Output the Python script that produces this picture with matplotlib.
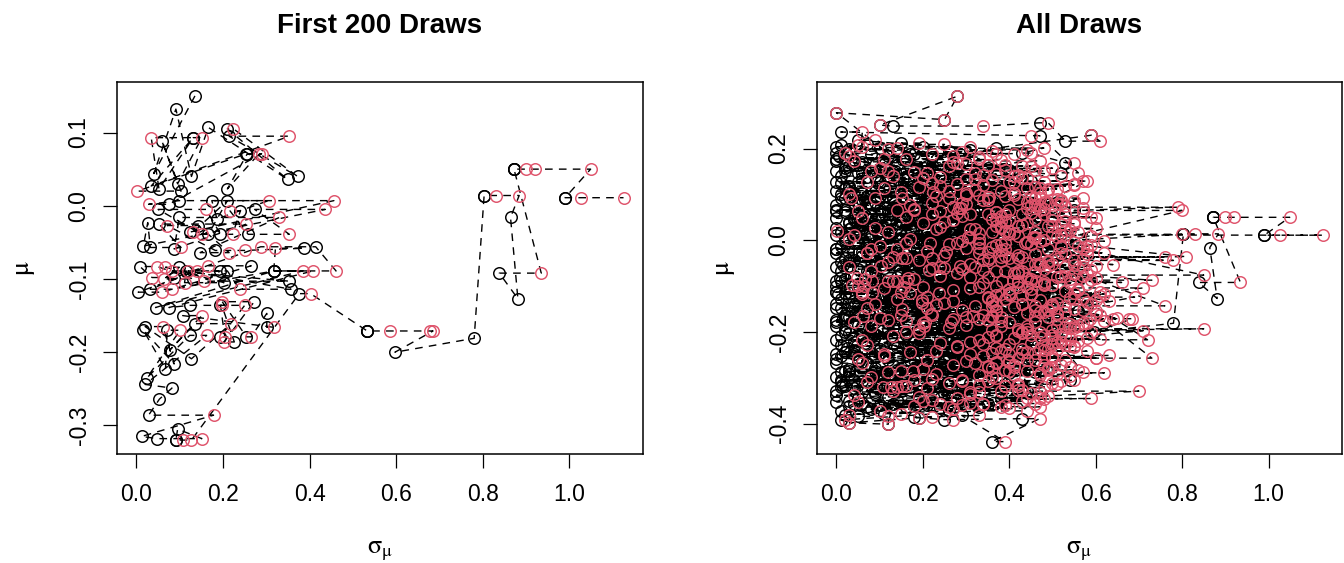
import numpy as np
import matplotlib
matplotlib.use('Agg')
import matplotlib.pyplot as plt

nan = float('nan')

# first 200 draws: sigma at the black point, mu, sigma at the red point (nan = hidden)
sig_first = [.135, .040, .091, .127, .166, .349, .210, .372, .214, .034,
             .131, .052, .131, .095, .059, .103, .254, .210, .256, .075,
             .099, .186, .174, .123, .210, .166, .050, .194, .240, .258,
             .273, .016, .026, .032, .052, .087, .099, .147, .143, .182,
             .388, .317, .414, .087, .008, .131, .099, .202, .115, .353,
             .194, .357, .210, .004, .265, .032, .317, .044, .317, .075,
             .123, .194, .194, .226, .272, .254, .301, .301, .107, .077,
             .135, .127, .020, .087, .016, .067, .071, .024, .123, .020,
             .082, .053, .028, .012, .048, .095, .091, .091, .376, .533,
             .533, .533, .597, .780, .803, .803, .864, .881, .838, .872,
             .872, .872, .990, .990]
mu_first = [.150, .044, .132, .040, .107, .036, .105, .040, .095, .027,
            .093, .023, .093, .030, .088, .020, .071, .023, .071, .002,
            .007, -.018, .007, -.036, .007, -.039, -.005, -.039, -.007, -.039,
            -.005, -.055, -.023, -.057, -.025, -.059, -.016, -.064, -.027, -.061,
            -.058, -.089, -.056, -.098, -.083, -.100, -.084, -.105, -.089, -.103,
            -.089, -.114, -.089, -.118, -.082, -.114, -.089, -.139, -.089, -.139,
            -.136, -.179, -.136, -.186, -.131, -.179, -.147, -.166, -.150, -.197,
            -.161, -.209, -.165, -.216, -.170, -.223, -.170, -.235, -.177, -.244,
            -.249, -.264, -.286, -.315, -.318, -.305, -.320, -.320, -.120, -.171,
            -.171, -.171, -.200, -.181, .014, .014, -.016, -.127, -.092, .050,
            .050, .050, .011, .011]
sig_next_first = [nan, nan, nan, nan, nan, nan, .224, nan, .353, nan,
                  .034, nan, .151, nan, nan, .002, .283, nan, .289, .028,
                  .305, nan, .456, .131, nan, .151, .161, .222, .216, .353,
                  .436, nan, nan, .103, .254, nan, .330, .214, .071, .250,
                  .321, .461, .287, .036, .048, .063, .067, .111, .083, .156,
                  .119, .238, .139, .059, .166, .083, .384, nan, .408, nan,
                  .250, .204, .197, .202, .198, .265, nan, .317, .151, nan,
                  .218, nan, .061, nan, nan, nan, .101, nan, .162, nan,
                  nan, nan, .178, nan, .151, nan, .107, .127, .402, .586,
                  .677, .685, nan, nan, .830, .884, nan, nan, .935, .899,
                  .921, 1.049, 1.026, 1.125]

# remaining draws (one line per mu band)
sig_rest = [
    .00, .02, .07, .12, .18, .01, .05, .24, .10, .30, .15, .00, .21, .04, .36, .08, .27, .03, .42, .48, .52,
    .00, .03, .09, .14, .19, .01, .06, .25, .11, .31, .16, .00, .22, .05, .37, .08, .28, .02, .43, .50, .46, .54,
    .00, .03, .08, .14, .20, .01, .06, .26, .11, .32, .17, .00, .23, .04, .38, .09, .29, .02, .44, .13,
    .01, .04, .10, .15, .20, .00, .07, .26, .12, .32, .17, .00, .23, .05, .38, .09, .29, .02, .44, .48, .55,
    .01, .04, .10, .16, .00, .07, .22, .28, .13, .02, .35, .19, .05, .09, .25, .00, .41, .31, .12, .03, .50, .55,
    .00, .03, .08, .13, .19, .01, .06, .24, .11, .30, .16, .00, .21, .04, .36, .09, .27, .02, .42, .47, .50, .58,
    .00, .03, .08, .14, .21, .01, .05, .18, .26, .10, .33, .02, .15, .06, .23, .38, .00, .12, .29, .45,
    .01, .04, .09, .14, .20, .00, .07, .25, .12, .31, .17, .00, .22, .05, .37, .10, .28, .02, .43, .56,
    .00, .02, .06, .11, .17, .24, .01, .09, .29, .13, .04, .20, .35, .00, .07, .16, .27, .03, .12, .40,
    .00, .03, .08, .13, .19, .01, .06, .24, .11, .30, .16, .00, .21, .04, .36, .09, .27, .02, .45, .51, .49,
    .01, .03, .08, .15, .20, .00, .12, .26, .05, .18, .02, .10, .31, .07, .22, .00, .14, .04,
    .01, .04, .09, .14, .20, .00, .07, .25, .12, .31, .17, .00, .22, .05, .37, .10, .28, .02, .44,
    .00, .25, .28, .10, .13, .47, .53, .59, .37, .43, .53, .52, .47, .01,
    .00, .03, .08, .13, .19, .01, .06, .24, .11, .30, .16, .00, .21, .04, .35, .09, .27, .02, .40,
    .01, .04, .09, .14, .20, .00, .07, .25, .12, .31, .17, .00, .22, .05, .36, .02, .54, .44, .38,
    .00, .03, .08, .14, .19, .01, .06, .24, .11, .29, .16, .02, .21, .04, .33,
    .01, .05, .12, .03, .19, .25, .43, .36, .29, .18]
mu_rest = [
    .012, .003, -.008, .015, -.017, -.012, .021, -.004, -.023, .008, .001, -.019, .018, -.006, -.013, .009, -.021, .024, -.002, -.011, .013,
    -.028, -.043, -.052, -.034, -.039, -.047, -.026, -.055, -.061, -.031, -.049, -.058, -.036, -.063, -.041, -.045, -.057, -.038, -.053, -.044, -.037, -.036,
    .048, .037, .053, .029, .042, .018, .033, .057, .024, .031, .046, .027, .016, .051, .039, .044, .022, .062, .049, .058,
    -.068, -.079, -.093, -.072, -.084, -.088, -.066, -.097, -.102, -.074, -.091, -.099, -.071, -.104, -.082, -.077, -.095, -.085, -.092, -.087, -.076,
    .093, .081, .068, .087, .063, .096, .078, .059, .073, .066, .088, .061, .057, .083, .091, .076, .071, .085, .064, .094, .072, .065,
    -.112, -.123, -.134, -.108, -.119, -.128, -.114, -.136, -.141, -.106, -.131, -.138, -.117, -.144, -.121, -.126, -.139, -.116, -.133, -.104, -.124, -.143,
    .128, .117, .106, .134, .122, .101, .126, .113, .131, .097, .109, .114, .121, .103, .099, .118, .107, .136, .104, .129,
    -.148, -.162, -.171, -.153, -.158, -.174, -.146, -.168, -.181, -.152, -.166, -.178, -.155, -.184, -.161, -.157, -.176, -.163, -.169, -.155,
    .172, .158, .147, .166, .161, .153, .139, .164, .173, .148, .169, .143, .157, .151, .137, .178, .144, .162, .141, .154,
    -.188, -.203, -.212, -.192, -.197, -.208, -.186, -.214, -.223, -.191, -.206, -.218, -.195, -.221, -.199, -.204, -.216, -.201, -.193, -.197, -.217,
    .207, .198, .187, .212, .203, .191, .183, .194, .218, .189, .178, .202, .197, .209, .181, .204, .193, .176,
    -.228, -.241, -.253, -.232, -.238, -.249, -.226, -.254, -.262, -.231, -.246, -.258, -.235, -.264, -.242, -.237, -.256, -.244, -.257,
    .278, .263, .314, .251, .249, .256, .216, .229, .201, .190, .169, .147, .228, .236,
    -.268, -.281, -.293, -.272, -.277, -.288, -.266, -.294, -.302, -.271, -.286, -.298, -.274, -.304, -.283, -.279, -.297, -.285, -.289,
    -.308, -.322, -.331, -.312, -.318, -.328, -.306, -.334, -.341, -.311, -.326, -.338, -.315, -.344, -.321, -.317, -.304, -.329, -.345,
    -.352, -.361, -.368, -.349, -.357, -.372, -.354, -.366, -.378, -.351, -.364, -.381, -.359, -.356, -.363,
    -.392, -.384, -.401, -.398, -.387, -.391, -.389, -.439, -.382, -.386]
sig_next_rest = [
    .04, .17, .26, .33, .30, .10, .39, .44, .21, .51, .48, .14, .36, .28, .56, .42, .58, .23, .62, .59, .80,
    .07, .19, .31, .25, .40, .12, .35, .47, .22, .53, .44, .03, .38, .29, .57, .49, .60, .16, .64, .78, .76, .81,
    .06, .20, .29, .24, .38, .12, .43, .35, .32, .50, .46, .09, .41, .16, .55, .27, .53, .37, .60, .22,
    .08, .24, .34, .28, .45, .13, .39, .50, .20, .55, .48, .05, .42, .31, .60, .52, .58, .18, .66, .73, .85,
    .09, .22, .18, .34, .05, .39, .30, .45, .27, .14, .52, .37, .31, .48, .42, .17, .57, .55, .24, .35, .79, .80,
    .06, .21, .36, .27, .43, .14, .40, .51, .23, .56, .47, .09, .38, .32, .61, .54, .59, .17, .63, .71, .69, .76,
    .07, .19, .15, .32, .28, .03, .40, .44, .36, .23, .49, .11, .55, .30, .41, .53, .26, .20, .47, .58,
    .07, .22, .33, .29, .44, .12, .41, .49, .20, .57, .46, .04, .37, .30, .60, .53, .62, .15, .65, .60,
    .04, .10, .21, .30, .26, .39, .13, .35, .47, .18, .28, .42, .50, .08, .24, .33, .37, .45, .52, .46,
    .08, .19, .35, .26, .42, .13, .38, .50, .24, .55, .45, .06, .36, .31, .59, .52, .61, .16, .85, .71, .72,
    .05, .12, .22, .19, .31, .02, .27, .36, .09, .41, .16, .14, .44, .25, .33, .06, .29, .38,
    .07, .23, .34, .28, .43, .11, .40, .48, .21, .54, .46, .05, .37, .30, .58, .51, .60, .17, .73,
    .00, .25, .28, .10, .34, .49, .61, .59, .48, .45, .55, .56, .45, .06,
    .06, .20, .33, .27, .41, .12, .37, .47, .22, .52, .44, .08, .35, .29, .56, .49, .54, .15, .62,
    .07, .21, .31, .26, .39, .13, .35, .45, .19, .50, .42, .04, .33, .28, .48, .16, .55, .70, .59,
    .05, .18, .27, .22, .34, .10, .31, .40, .15, .43, .38, .03, .29, .24, .47,
    .02, .12, .12, .03, .19, .27, .47, .39, .33, .22]

# further draws filling the bulk of the cloud
sig_more = [
    .005, .06, .14, .02, .09, .18, .01, .11, .23, .04, .16, .07, .28, .00, .12, .19, .03, .08, .25, .15,
    .02, .10, .21, .00, .13, .06, .27, .17, .03, .09, .32, .14, .01, .22, .07, .18, .11, .29, .04, .15,
    .00, .12, .05, .20, .09, .26, .02, .16, .08, .30, .13, .04, .22, .10, .01, .18, .07, .24, .14, .03,
    .11, .06, .19, .01, .15, .09, .24, .03, .13, .07, .17, .00, .21, .05, .10, .28, .02, .14, .08, .19,
    .06, .16, .02, .24, .11, .04, .19, .08, .27, .13, .00, .21, .09, .15, .03, .25, .12, .06, .18, .10,
    .04, .17, .08, .22, .01, .13, .06, .19, .10, .26, .03, .15, .07, .21, .12, .02, .16, .09, .23, .05,
    .18, .26, .33, .21, .38, .29, .16, .35, .24, .42, .31, .19, .27, .44, .22, .36, .30, .17, .40, .25,
    .28, .20, .37, .32, .23, .41, .26, .34, .18, .39, .29, .45, .21, .33, .27, .38, .24, .43, .30, .35,
    .22, .34, .27, .40, .19, .31, .36, .25, .43, .29, .17, .38, .33, .23, .46, .28, .35, .20, .41, .32,
    .26, .39, .21, .35, .30, .44, .24, .37, .28, .42, .19, .33, .47, .25, .38, .31, .22, .36, .29, .40,
    .30, .36, .24, .41, .33, .28, .45, .21, .38, .34, .26, .43, .31, .37, .23, .40, .35, .27, .48, .32,
    .31, .24, .39, .28, .45, .34, .22, .41, .30, .37, .26, .43, .33, .29, .47, .36, .25, .40, .32, .44,
    .27, .38, .30, .46, .23, .35, .42, .29, .49, .33, .26, .40, .36, .31, .44, .28, .38, .25, .43, .34,
    .35, .29, .42, .25, .38, .32, .46, .27, .40, .34, .22, .44, .30, .37, .48, .26, .41, .33, .39, .28,
    .33, .41, .27, .37, .45, .30, .24, .39, .35, .43, .28, .36, .47, .31, .40, .26, .34, .42, .29, .38,
    .36, .30, .44, .27, .39, .33, .48, .25, .42, .31, .37, .45, .29, .40, .34, .26, .43, .32, .38, .35]
mu_more = [
    .184, .171, .163, .152, .141, .133, .124, .117, .108, .098, .089, .082, .074, .066, .058, .047, .039, .031, .022, .014,
    .006, -.003, -.011, -.019, -.027, -.034, -.042, -.051, -.058, -.066, -.073, -.081, -.089, -.096, -.103, -.111, -.118, -.126, -.133, -.141,
    -.148, -.156, -.163, -.171, -.178, -.186, -.193, -.201, -.208, -.216, -.223, -.231, -.238, -.246, -.253, -.261, -.268, -.276, -.283, -.291,
    -.298, -.306, -.313, -.321, -.328, -.336, -.343, -.351, -.357, -.364, .189, .177, .161, .146, .128, .112, .093, .076, .057, .041,
    .027, .013, -.001, -.016, -.029, -.044, -.059, -.071, -.086, -.098, -.113, -.127, -.139, -.152, -.167, -.181, -.194, -.207, -.222, -.236,
    -.249, -.262, -.277, -.291, -.304, -.318, -.331, -.346, -.359, -.372, .118, .052, -.009, -.061, -.117, -.172, -.228, -.284, .081, -.144,
    .142, .127, .113, .098, .086, .071, .059, .044, .032, .019, .007, -.006, -.018, -.031, -.043, -.056, -.068, -.081, -.093, -.106,
    -.118, -.131, -.143, -.156, -.168, -.181, -.193, -.206, -.218, -.231, -.243, -.256, -.268, -.281, -.293, -.306, -.318, -.331, -.343, -.356,
    .164, .151, .136, .122, .109, .093, .079, .066, .051, .038, .024, .011, -.002, -.014, -.027, -.039, -.052, -.064, -.077, -.089,
    -.101, -.114, -.126, -.139, -.151, -.164, -.176, -.189, -.201, -.214, -.226, -.239, -.251, -.264, -.276, -.289, -.301, -.314, -.326, -.339,
    .093, .058, .021, -.013, -.047, -.082, -.117, -.152, -.186, -.221, -.256, .129, .076, .035, -.006, -.064, -.098, -.139, -.171, -.207,
    .104, .087, .069, .052, .036, .017, .002, -.015, -.033, -.049, -.066, -.084, -.101, -.117, -.134, -.151, -.168, -.186, -.203, -.219,
    -.236, -.253, -.271, -.288, .121, .096, .074, .047, .026, .004, -.022, -.041, -.063, -.088, -.109, -.127, -.146, -.173, -.191, -.212,
    -.229, -.247, -.262, -.279, .112, .083, .061, .039, .012, -.008, -.027, -.053, -.072, -.096, -.113, -.138, -.159, -.178, -.196, -.241,
    .136, .078, .028, -.019, -.059, -.092, -.124, -.161, -.199, -.232, -.266, .058, .009, -.036, -.077, -.119, -.144, -.183, -.214, -.257,
    .067, .031, -.004, -.045, -.081, -.106, -.131, -.165, -.208, -.245, -.283, .092, .044, -.012, -.069, -.099, -.149, -.188, -.226, -.272]
sig_next_more = [
    .03, .27, .35, .12, .41, .30, .22, .46, .38, .33, .51, .29, .47, .18, .43, .36, .25, .49, .54, .40,
    .31, .44, .37, .08, .52, .39, .55, .46, .24, .42, .58, .35, .16, .48, .33, .53, .45, .57, .27, .50,
    .21, .47, .34, .51, .40, .56, .19, .43, .37, .54, .45, .28, .49, .36, .11, .44, .32, .50, .39, .23,
    .36, .29, .42, .14, .38, .31, .47, .20, .34, .26, .37, .11, .43, .32, .48, .51, .26, .45, .39, .53,
    .38, .50, .29, .57, .46, .34, .53, .41, .59, .48, .15, .55, .43, .49, .30, .58, .44, .37, .52, .47,
    .31, .46, .35, .51, .18, .42, .33, .48, .39, .44, .24, .50, .38, .56, .45, .27, .53, .40, .49, .36,
    .34, .41, .47, .30, .52, .44, .28, .50, .37, .56, .46, .33, .39, .58, .35, .49, .43, .31, .54, .40,
    .45, .36, .53, .48, .38, .57, .42, .50, .33, .55, .44, .60, .37, .49, .41, .52, .39, .47, .44, .46,
    .39, .48, .43, .55, .32, .46, .51, .40, .59, .44, .31, .53, .47, .36, .62, .42, .50, .34, .57, .45,
    .42, .55, .35, .50, .46, .61, .38, .53, .44, .58, .34, .48, .63, .40, .54, .47, .37, .51, .43, .49,
    .47, .53, .40, .58, .49, .44, .62, .37, .55, .51, .42, .57, .46, .52, .39, .59, .50, .43, .64, .48,
    .41, .35, .48, .38, .55, .46, .33, .52, .42, .47, .37, .54, .44, .40, .58, .49, .36, .51, .43, .56,
    .39, .50, .41, .57, .34, .45, .53, .37, .60, .46, .38, .51, .48, .42, .56, .39, .50, .35, .54, .47,
    .48, .40, .53, .36, .49, .44, .57, .39, .52, .45, .33, .55, .42, .48, .61, .37, .51, .46, .50, .38,
    .44, .52, .38, .49, .57, .42, .35, .51, .47, .55, .40, .48, .59, .43, .53, .37, .46, .54, .41, .50,
    .47, .42, .55, .38, .51, .45, .60, .36, .53, .43, .49, .57, .40, .52, .46, .37, .55, .44, .50, .48]

x_ticks = [0.0, 0.2, 0.4, 0.6, 0.8, 1.0]
x_tick_labels = ['0.0', '0.2', '0.4', '0.6', '0.8', '1.0']
y_ticks_first = [-0.3, -0.2, -0.1, 0.0, 0.1]
y_tick_labels_first = ['-0.3', '-0.2', '-0.1', '0.0', '0.1']
y_ticks_all = [-0.4, -0.2, 0.0, 0.2]
y_tick_labels_all = ['-0.4', '-0.2', '0.0', '0.2']

BLACK = '#000000'
RED = '#DF536B'

plt.rcParams['font.family'] = ['Liberation Sans', 'DejaVu Sans']
plt.rcParams['mathtext.fontset'] = 'stix'


def draw_chain(ax, sb, mu, sr):
    sb = np.asarray(sb, float)
    mu = np.asarray(mu, float)
    sr = np.asarray(sr, float)
    sr_path = np.where(np.isnan(sr), sb, sr)
    xs = np.column_stack([sb, sr_path]).ravel()
    ys = np.column_stack([mu, mu]).ravel()
    ax.plot(xs, ys, color=BLACK, lw=1.0, dashes=(5.5, 4.5), zorder=1)
    ax.plot(sb, mu, 'o', mfc='none', mec=BLACK, ms=8.3, mew=1.05, zorder=2)
    ax.plot(sr, mu, 'o', mfc='none', mec=RED, ms=8.3, mew=1.05, zorder=3)


def style(ax, yticks, ylabels, ylim):
    ax.set_xlim(-0.045, 1.17)
    ax.set_ylim(*ylim)
    ax.set_xticks(x_ticks)
    ax.set_xticklabels(x_tick_labels)
    ax.set_yticks(yticks)
    ax.set_yticklabels(ylabels, rotation=90, va='center')
    ax.tick_params(direction='out', length=10, width=0.9, labelsize=16.5)
    ax.tick_params(axis='x', pad=11)
    ax.tick_params(axis='y', pad=9)
    for s in ax.spines.values():
        s.set_linewidth(1.1)


fig = plt.figure(figsize=(13.44, 5.63), dpi=100)
W, H = 1344, 563
ax1 = fig.add_axes([117 / W, (H - 454) / H, 526 / W, 372 / H])
ax2 = fig.add_axes([817 / W, (H - 454) / H, 525 / W, 372 / H])

draw_chain(ax1, sig_first, mu_first, sig_next_first)
n = min(len(sig_rest), len(mu_rest), len(sig_next_rest))
m = min(len(sig_more), len(mu_more), len(sig_next_more))
draw_chain(ax2, sig_first + sig_rest[:n] + sig_more[:m],
           mu_first + mu_rest[:n] + mu_more[:m],
           sig_next_first + sig_next_rest[:n] + sig_next_more[:m])

style(ax1, y_ticks_first, y_tick_labels_first, (-0.339, 0.169))
style(ax2, y_ticks_all, y_tick_labels_all, (-0.466, 0.345))

for cx, title in [(380, 'First 200 Draws'), (1079.5, 'All Draws')]:
    fig.text(cx / W, 1 - 33 / H, title, ha='center', va='baseline',
             fontsize=20, fontweight='bold')
    fig.text(cx / W, 10 / H, r'$\mathrm{\sigma_\mu}$', ha='center', va='baseline',
             fontsize=19)
for lx in [25, 725]:
    fig.text(lx / W, 1 - 268 / H, r'$\mathrm{\mu}$', ha='center', va='center',
             rotation=90, fontsize=19)

fig.savefig('out.png', dpi=100)
